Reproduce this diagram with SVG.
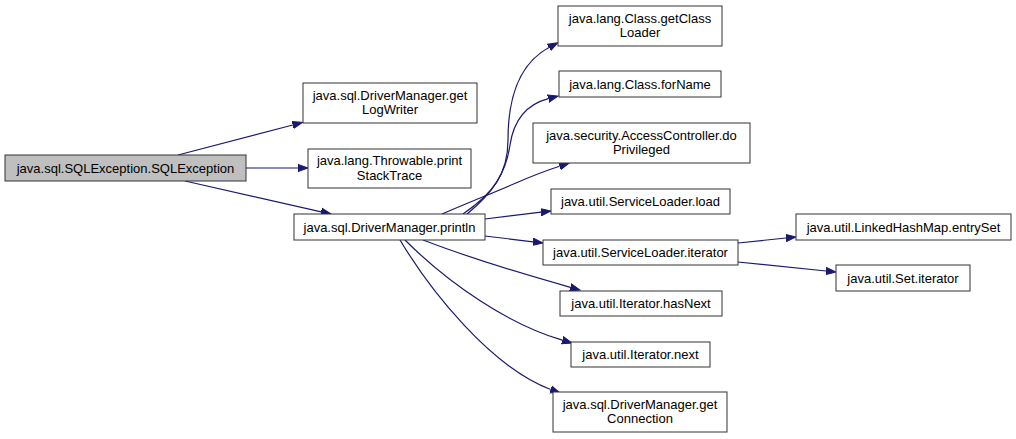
<svg xmlns="http://www.w3.org/2000/svg" width="1016" height="439" viewBox="0 0 1016 439">
<style>
.n rect{fill:#ffffff;stroke:#333333;stroke-width:1}
.n.root rect{fill:#bfbfbf}
.n text{font-family:"Liberation Sans",Arial,sans-serif;font-size:13px;fill:#000;text-anchor:middle}
.e path{fill:none;stroke:#191970;stroke-width:1.2;marker-end:url(#ah)}
</style>
<defs>
<marker id="ah" markerUnits="userSpaceOnUse" markerWidth="11" markerHeight="9" viewBox="0 -4.5 11 9" refX="0" refY="0" orient="auto">
<path d="M0,-3.6 L10,0 L0,3.6 z" fill="#191970" stroke="#191970" stroke-width="1"/>
</marker>
</defs>
<rect width="1016" height="439" fill="#ffffff"/>
<g id="edges" class="e">
<path d="M178,155 L292.8,125"/>
<path d="M246,168 L298,168"/>
<path d="M185,181 L321.2,211.8"/>
<path d="M463,214 C492,194 508,175 508,140 C508,92 522,62 549,47.5"/>
<path d="M467,214 C494,192 506,172 510,145 C514,118 528,104 548.3,98.6"/>
<path d="M442,214 C470,202 495,192 516,183 C531,176.5 545,171 559.5,166.3"/>
<path d="M485,219 L541.1,212.2"/>
<path d="M485,236 L533.1,241.8"/>
<path d="M423,240 C470,258 530,276 570.4,287.3"/>
<path d="M405,240 C450,285 510,325 562.4,340.2"/>
<path d="M400,240 C430,290 490,366.5 550.7,389.5"/>
<path d="M738,243 L786,238"/>
<path d="M738,262 L826,271"/>
</g>
<g id="n_root" class="n root"><rect x="5" y="155" width="241" height="26"/><text x="125.5" y="172.5">java.sql.SQLException.SQLException</text></g>
<g id="n_getLogWriter" class="n"><rect x="303" y="83" width="174" height="40"/><text x="390" y="99.5">java.sql.DriverManager.get</text><text x="390" y="114">LogWriter</text></g>
<g id="n_printStackTrace" class="n"><rect x="308" y="149" width="163" height="39"/><text x="389.5" y="165">java.lang.Throwable.print</text><text x="389.5" y="179.5">StackTrace</text></g>
<g id="n_println" class="n"><rect x="294" y="214" width="191" height="26"/><text x="389.5" y="231.5">java.sql.DriverManager.println</text></g>
<g id="n_getClassLoader" class="n"><rect x="558" y="6" width="164" height="40"/><text x="640" y="22.5">java.lang.Class.getClass</text><text x="640" y="37">Loader</text></g>
<g id="n_forName" class="n"><rect x="559" y="71" width="162" height="26"/><text x="640" y="88.5">java.lang.Class.forName</text></g>
<g id="n_doPrivileged" class="n"><rect x="533" y="123" width="217" height="40"/><text x="641.5" y="139.5">java.security.AccessController.do</text><text x="641.5" y="154">Privileged</text></g>
<g id="n_load" class="n"><rect x="551" y="189" width="179" height="25"/><text x="640.5" y="206">java.util.ServiceLoader.load</text></g>
<g id="n_iterator" class="n"><rect x="543" y="240" width="195" height="25"/><text x="640.5" y="257">java.util.ServiceLoader.iterator</text></g>
<g id="n_hasNext" class="n"><rect x="560" y="291" width="162" height="25"/><text x="641" y="308">java.util.Iterator.hasNext</text></g>
<g id="n_next" class="n"><rect x="571" y="342" width="139" height="25"/><text x="640.5" y="359">java.util.Iterator.next</text></g>
<g id="n_getConnection" class="n"><rect x="553" y="392" width="174" height="40"/><text x="640" y="408.5">java.sql.DriverManager.get</text><text x="640" y="423">Connection</text></g>
<g id="n_entrySet" class="n"><rect x="796" y="214" width="215" height="26"/><text x="903.5" y="231.5">java.util.LinkedHashMap.entrySet</text></g>
<g id="n_setIterator" class="n"><rect x="836" y="265" width="134" height="26"/><text x="903" y="282.5">java.util.Set.iterator</text></g>
</svg>
